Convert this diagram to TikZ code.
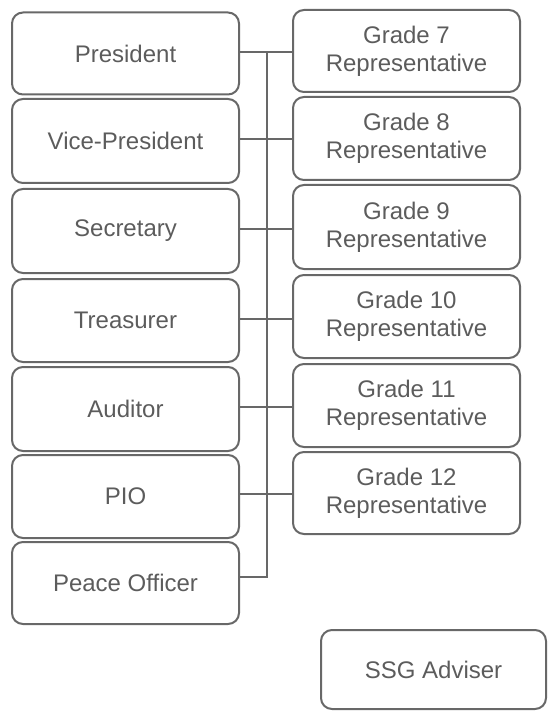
\documentclass[tikz,border=0pt]{standalone}
\usepackage{fontspec}
\setmainfont{Liberation Sans}
\definecolor{edge}{HTML}{686868}
\definecolor{txt}{HTML}{5C5C5C}
\begin{document}
\begin{tikzpicture}[x=1pt,y=-1pt,
  box/.style={draw=edge,line width=2pt,rounded corners=11pt,rectangle,
    minimum width=227pt,minimum height=82pt,inner sep=0pt,align=center,
    text=txt,font=\fontsize{24}{28}\selectfont},
  link/.style={draw=edge,line width=2pt}]
\useasboundingbox (0,0) rectangle (548,711);
\node[box] (L1) at (125.5,53.5) {President};
\node[box,minimum height=84pt] (L2) at (125.5,141) {Vice-President};
\node[box,minimum height=84pt] (L3) at (125.5,231) {Secretary};
\node[box,minimum height=83pt] (L4) at (125.5,320.5) {Treasurer};
\node[box,minimum height=84pt] (L5) at (125.5,409) {Auditor};
\node[box,minimum height=83pt] (L6) at (125.5,496.5) {PIO};
\node[box] (L7) at (125.5,583) {Peace Officer};
\node[box] (R1) at (406.5,51) {Grade 7\\Representative};
\node[box,minimum height=83pt] (R2) at (406.5,138.5) {Grade 8\\Representative};
\node[box,minimum height=84pt] (R3) at (406.5,227) {Grade 9\\Representative};
\node[box,minimum height=83pt] (R4) at (406.5,316.5) {Grade 10\\Representative};
\node[box,minimum height=83pt] (R5) at (406.5,405.5) {Grade 11\\Representative};
\node[box] (R6) at (406.5,493) {Grade 12\\Representative};
\node[box,minimum width=225pt,minimum height=79pt] (A) at (433.5,669.5) {SSG Adviser};
\coordinate (sp) at (267,0);
\coordinate (pe) at ([yshift=6pt]L7.east);
\draw[link] ([yshift=1pt]L1.east) -- ([yshift=1pt]L1.east -| R1.west);
\draw[link] ([yshift=2pt]L2.east) -- ([yshift=2pt]L2.east -| R2.west);
\draw[link] ([yshift=2pt]L3.east) -- ([yshift=2pt]L3.east -| R3.west);
\draw[link] ([yshift=2pt]L4.east) -- ([yshift=2pt]L4.east -| R4.west);
\draw[link] ([yshift=2pt]L5.east) -- ([yshift=2pt]L5.east -| R5.west);
\draw[link] ([yshift=2.5pt]L6.east) -- ([yshift=2.5pt]L6.east -| R6.west);
\draw[link] (sp |- L1.east) -- (sp |- pe) -- (pe);
\end{tikzpicture}
\end{document}
